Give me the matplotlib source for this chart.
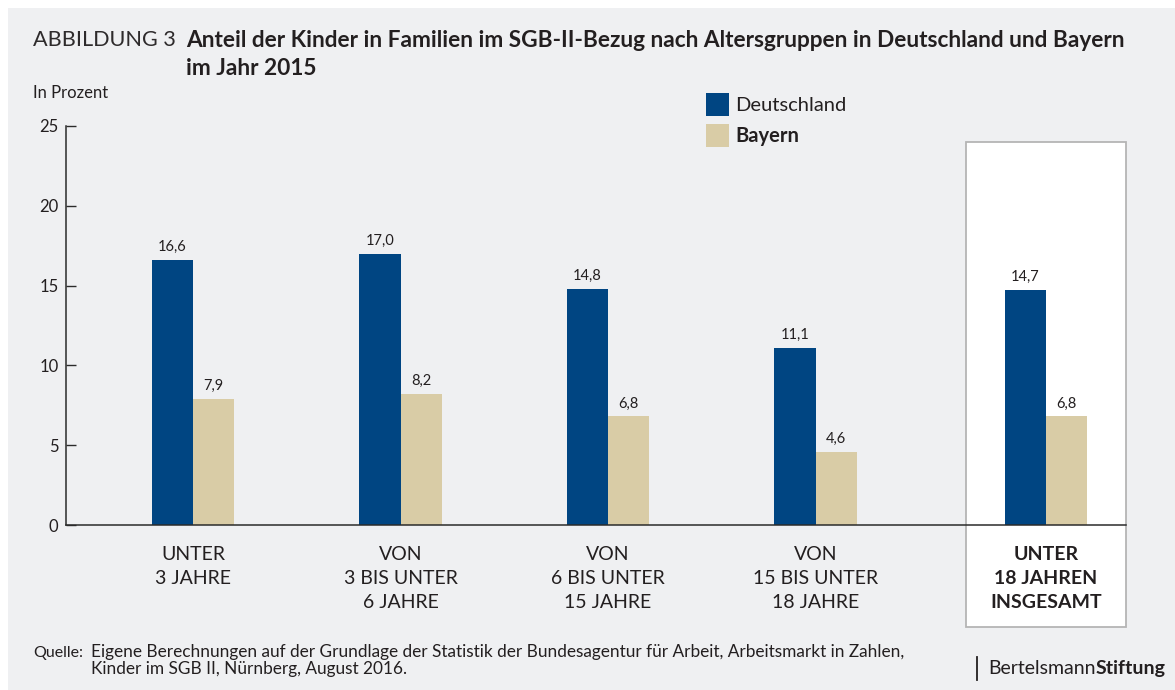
import matplotlib
matplotlib.use('Agg')
import matplotlib.pyplot as plt
from matplotlib.patches import Rectangle
from matplotlib.lines import Line2D
import numpy as np

# ---------------- data ----------------
categories = ["UNTER\n3 JAHRE",
              "VON\n3 BIS UNTER\n6 JAHRE",
              "VON\n6 BIS UNTER\n15 JAHRE",
              "VON\n15 BIS UNTER\n18 JAHRE",
              "UNTER\n18 JAHREN\nINSGESAMT"]
deutschland = [16.6, 17.0, 14.8, 11.1, 14.7]
bayern = [7.9, 8.2, 6.8, 4.6, 6.8]
series_names = ["Deutschland", "Bayern"]
yticks = [0, 5, 10, 15, 20, 25]

title_prefix = "ABBILDUNG 3"
title_text = "Anteil der Kinder in Familien im SGB-II-Bezug nach Altersgruppen in Deutschland und Bayern\nim Jahr 2015"
unit_label = "In Prozent"
source_label = "Quelle:"
source_lines = ["Eigene Berechnungen auf der Grundlage der Statistik der Bundesagentur für Arbeit, Arbeitsmarkt in Zahlen,",
                "Kinder im SGB II, Nürnberg, August 2016."]
brand_regular = "Bertelsmann"
brand_bold = "Stiftung"

# ---------------- style ----------------
BLUE = '#004582'
BEIGE = '#d9cca6'
BG = '#eff0f2'
TXT = '#231f20'
AX = '#2b2b2b'
plt.rcParams['font.family'] = ['Lato', 'DejaVu Sans']

W, H = 1175, 690
fig = plt.figure(figsize=(W / 100, H / 100), dpi=100, facecolor='white')


def fx(x):
    return x / W


def fy(y):
    return 1 - y / H


# grey panel
fig.patches.append(Rectangle((fx(8), 0), 1 - fx(8), fy(8), transform=fig.transFigure,
                             facecolor=BG, edgecolor='none', zorder=-10))

ax_l, ax_r, ax_t, ax_b = 66, 1126, 126, 525
ax = fig.add_axes([fx(ax_l), fy(ax_b), fx(ax_r - ax_l), (ax_b - ax_t) / H])
ax.set_facecolor('none')

n = len(categories)
idx = np.arange(n)
pos = idx + np.where(idx == n - 1, 0.11, 0.0)
bw = 0.198

b1 = ax.bar(pos - bw / 2, deutschland, bw, color=BLUE, zorder=3, label=series_names[0])
b2 = ax.bar(pos + bw / 2, bayern, bw, color=BEIGE, zorder=3, label=series_names[1])

for bars in (b1, b2):
    for r in bars:
        v = r.get_height()
        ax.annotate(f"{v:.1f}".replace('.', ','), (r.get_x() + r.get_width() / 2, v),
                    xytext=(0, 6.5), textcoords='offset points', ha='center', va='baseline',
                    fontsize=10.5, color=TXT, zorder=4)

ax.set_xlim(-0.612, 4.496)
ax.set_ylim(0, 25)
ax.set_yticks(yticks)
ax.set_yticklabels([str(t) for t in yticks])
ax.set_xticks([])
ax.tick_params(axis='y', direction='in', length=7, width=1, color=AX, labelsize=12,
               labelcolor=TXT, pad=5.5)
for s in ('top', 'right'):
    ax.spines[s].set_visible(False)
for s in ('left', 'bottom'):
    ax.spines[s].set_color(AX)
    ax.spines[s].set_linewidth(1.1)
    ax.spines[s].set_zorder(5)

# highlight box for the total group
px_per_unit = (ax_b - ax_t) / 25.0
box_top = (ax_b - 142) / px_per_unit
box_bot = (ax_b - 627) / px_per_unit
ax.add_patch(Rectangle((3.725, box_bot), 4.496 - 3.725, box_top - box_bot,
                       facecolor='white', edgecolor='#b5b5b5', lw=1.3, clip_on=False, zorder=1))

# category labels
xtr = ax.get_xaxis_transform()
for i, c in enumerate(categories):
    ax.text(pos[i], (ax_b - 546.5) / (ax_b - ax_t), c, transform=xtr, ha='center', va='top',
            fontsize=14, color=TXT, linespacing=1.5,
            fontweight='bold' if i == n - 1 else 'normal')

# legend
leg = fig.legend(handles=[b1, b2], labels=series_names, loc='upper left',
                 bbox_to_anchor=(fx(706), fy(93)), bbox_transform=fig.transFigure,
                 frameon=False, fontsize=14.5, handlelength=1.15, handleheight=1.35,
                 handletextpad=0.32, labelspacing=0.42, borderpad=0, borderaxespad=0)
for t in leg.get_texts():
    t.set_color(TXT)
leg.get_texts()[1].set_fontweight('bold')

# titles
fig.text(fx(33), fy(30), title_prefix, fontsize=15.6, fontweight='normal', color='#2e2b2c', va='top')
fig.text(fx(186), fy(30), title_text, fontsize=16.3, fontweight='bold', color=TXT, va='top',
         linespacing=1.42)
fig.text(fx(33), fy(98), unit_label, fontsize=12, color=TXT, va='baseline')

# source
fig.text(fx(33), fy(656.5), source_label, fontsize=11.5, color=TXT, va='baseline')
fig.text(fx(91), fy(656.5), source_lines[0], fontsize=12.4, color=TXT, va='baseline')
fig.text(fx(91), fy(674), source_lines[1], fontsize=12.4, color=TXT, va='baseline')

# brand
fig.add_artist(Line2D([fx(977), fx(977)], [fy(657), fy(680)], transform=fig.transFigure,
                      color=TXT, lw=1.3))
t1 = fig.text(fx(988), fy(674), brand_regular, fontsize=14, color=TXT, va='baseline')
r = fig.canvas.get_renderer()
bb = t1.get_window_extent(renderer=r)
fig.text(bb.x1 / fig.bbox.width, fy(674), brand_bold, fontsize=14, fontweight='bold',
         color=TXT, va='baseline')

fig.savefig('out.png', dpi=100, facecolor=fig.get_facecolor())
